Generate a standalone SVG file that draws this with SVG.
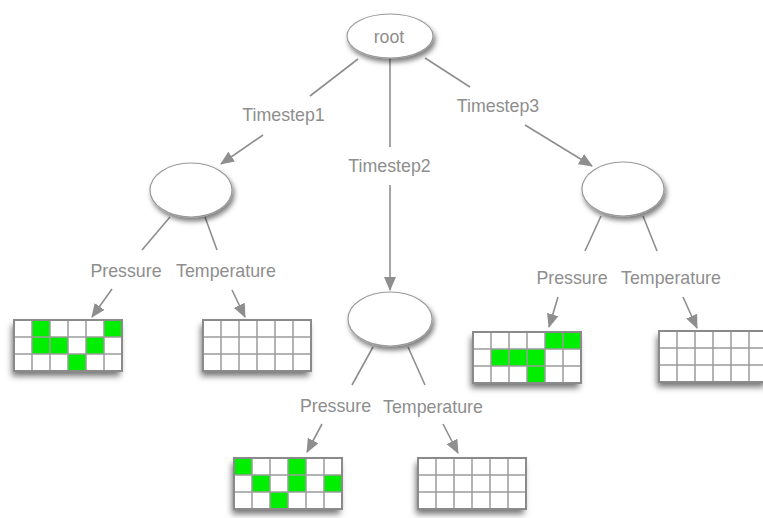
<svg xmlns="http://www.w3.org/2000/svg" xmlns:xlink="http://www.w3.org/1999/xlink" width="763" height="518" viewBox="0 0 763 518">
<style>
.lbl{font-family:"Liberation Sans",Arial,sans-serif;font-size:17.8px;fill:#8e8e8e;text-anchor:middle}
.edge{stroke:#8e8e8e;stroke-width:1.6;fill:none}
.node ellipse{fill:#fff;stroke:#9a9a9a;stroke-width:1.2;filter:url(#eshadow)}
.bg{fill:#fff;filter:url(#gshadow)}
.g{fill:#00ee00}
</style>
<defs>
<filter id="eshadow" x="-30%" y="-30%" width="170%" height="180%">
<feDropShadow dx="2" dy="4" stdDeviation="2.5" flood-color="#000" flood-opacity="0.5"/>
</filter>
<filter id="gshadow" x="-20%" y="-30%" width="140%" height="180%">
<feDropShadow dx="-2" dy="5" stdDeviation="3" flood-color="#000" flood-opacity="0.55"/>
</filter>
<marker id="arr" markerUnits="userSpaceOnUse" markerWidth="14" markerHeight="12" viewBox="0 0 14 12" refX="13" refY="6" orient="auto">
<path d="M0,0 L14,6 L0,12 Z" fill="#8e8e8e"/>
</marker>
<g id="gridlines" fill="none">
<path d="M18,0V51M36,0V51M54,0V51M72,0V51M90,0V51M0,17H108M0,34H108" stroke="#9c9c9c" stroke-width="1.5"/>
<rect x="0" y="0" width="108" height="51" stroke="#8a8a8a" stroke-width="2"/>
</g>
</defs>

<g id="connectors">
<line class="edge" x1="358" y1="59" x2="310" y2="96"/>
<line class="edge" x1="263" y1="135" x2="221" y2="164" marker-end="url(#arr)"/>
<line class="edge" x1="390" y1="58" x2="390" y2="147"/>
<line class="edge" x1="390" y1="185" x2="390" y2="290" marker-end="url(#arr)"/>
<line class="edge" x1="425" y1="58" x2="470" y2="87"/>
<line class="edge" x1="525" y1="125" x2="592" y2="166" marker-end="url(#arr)"/>

<line class="edge" x1="170" y1="217" x2="142" y2="250"/>
<line class="edge" x1="205" y1="217" x2="217" y2="250"/>
<line class="edge" x1="112" y1="289" x2="92" y2="317" marker-end="url(#arr)"/>
<line class="edge" x1="232" y1="290" x2="245" y2="317" marker-end="url(#arr)"/>

<line class="edge" x1="373" y1="347" x2="352" y2="385"/>
<line class="edge" x1="408" y1="347" x2="425" y2="385"/>
<line class="edge" x1="322" y1="424" x2="307" y2="452" marker-end="url(#arr)"/>
<line class="edge" x1="443" y1="424" x2="458" y2="453" marker-end="url(#arr)"/>

<line class="edge" x1="601" y1="216" x2="585" y2="251"/>
<line class="edge" x1="643" y1="216" x2="657" y2="251"/>
<line class="edge" x1="558" y1="297" x2="549" y2="327" marker-end="url(#arr)"/>
<line class="edge" x1="683" y1="297" x2="697" y2="328" marker-end="url(#arr)"/>
</g>

<g id="labels">
<text class="lbl" x="283.5" y="121">Timestep1</text>
<text class="lbl" x="389.5" y="172">Timestep2</text>
<text class="lbl" x="498" y="112">Timestep3</text>
<text class="lbl" x="126" y="277">Pressure</text>
<text class="lbl" x="226" y="277">Temperature</text>
<text class="lbl" x="335.5" y="412">Pressure</text>
<text class="lbl" x="433" y="413">Temperature</text>
<text class="lbl" x="572" y="284">Pressure</text>
<text class="lbl" x="671" y="284">Temperature</text>
</g>

<g id="root" class="node">
<ellipse cx="390" cy="36" rx="43" ry="22"/>
<text class="lbl" x="389" y="43">root</text>
</g>
<g id="ts1" class="node"><ellipse cx="191" cy="190" rx="41" ry="27"/></g>
<g id="ts2" class="node"><ellipse cx="390" cy="319" rx="42" ry="27"/></g>
<g id="ts3" class="node"><ellipse cx="623" cy="189" rx="41" ry="27"/></g>

<g id="ts1-pressure" transform="translate(14,320)">
<rect class="bg" width="108" height="51"/>
<rect class="g" x="18" y="0" width="18" height="17"/>
<rect class="g" x="90" y="0" width="18" height="17"/>
<rect class="g" x="18" y="17" width="18" height="17"/>
<rect class="g" x="36" y="17" width="18" height="17"/>
<rect class="g" x="72" y="17" width="18" height="17"/>
<rect class="g" x="54" y="34" width="18" height="17"/>
<use xlink:href="#gridlines"/>
</g>
<g id="ts1-temperature" transform="translate(203,320)">
<rect class="bg" width="108" height="51"/>
<use xlink:href="#gridlines"/>
</g>
<g id="ts2-pressure" transform="translate(234,458)">
<rect class="bg" width="108" height="51"/>
<rect class="g" x="0" y="0" width="18" height="17"/>
<rect class="g" x="54" y="0" width="18" height="17"/>
<rect class="g" x="18" y="17" width="18" height="17"/>
<rect class="g" x="54" y="17" width="18" height="17"/>
<rect class="g" x="90" y="17" width="18" height="17"/>
<rect class="g" x="36" y="34" width="18" height="17"/>
<use xlink:href="#gridlines"/>
</g>
<g id="ts2-temperature" transform="translate(418,458)">
<rect class="bg" width="108" height="51"/>
<use xlink:href="#gridlines"/>
</g>
<g id="ts3-pressure" transform="translate(473,332)">
<rect class="bg" width="108" height="51"/>
<rect class="g" x="72" y="0" width="18" height="17"/>
<rect class="g" x="90" y="0" width="18" height="17"/>
<rect class="g" x="18" y="17" width="18" height="17"/>
<rect class="g" x="36" y="17" width="18" height="17"/>
<rect class="g" x="54" y="17" width="18" height="17"/>
<rect class="g" x="54" y="34" width="18" height="17"/>
<use xlink:href="#gridlines"/>
</g>
<g id="ts3-temperature" transform="translate(659,331)">
<rect class="bg" width="108" height="51"/>
<use xlink:href="#gridlines"/>
</g>
</svg>
